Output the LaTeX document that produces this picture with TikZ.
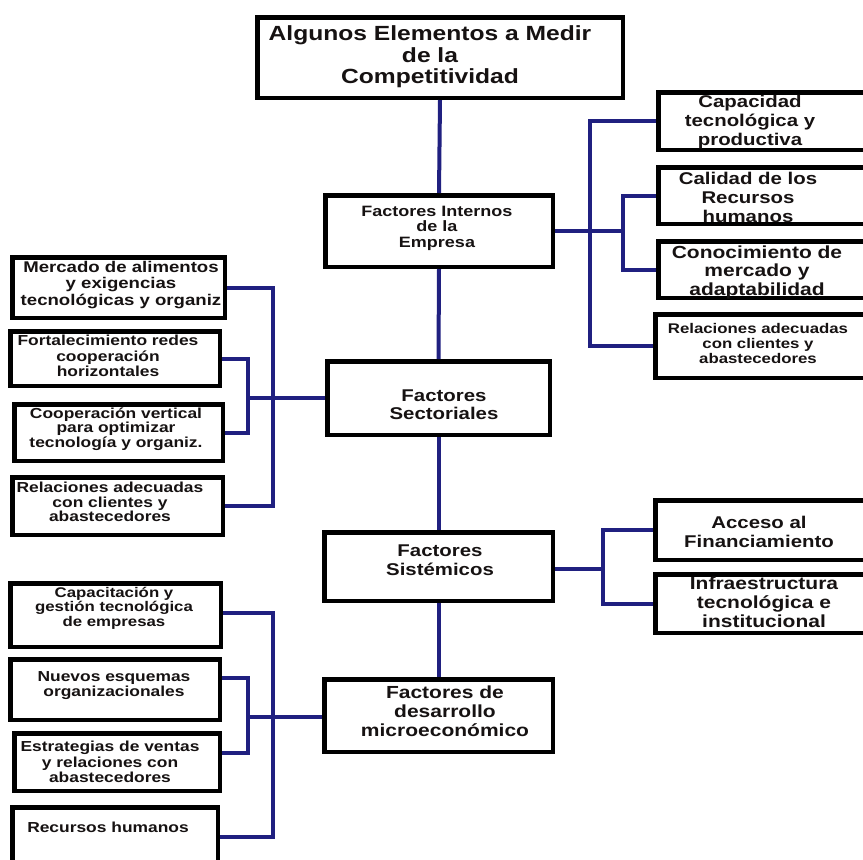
\documentclass[tikz,border=0pt]{standalone}
\usepackage{fontspec}
\newfontfamily\boxfont[FakeStretch=1.2]{Liberation Sans}
\definecolor{ink}{RGB}{22,18,18}
\definecolor{wire}{RGB}{32,32,128}
\newcommand\fs[2]{\boxfont\bfseries\fontsize{#1}{#2}\selectfont}
% rectangle from its outer corners (x1,y1)-(x2,y2), y growing downwards
\newcommand\mkbox[5]{%
  \node[frame, minimum width={(#4-#2-4.5)*1pt}, minimum height={(#5-#3-4.5)*1pt}]
    (#1) at ({(#2+#4)/2},{(#3+#5)/2}) {};}
\tikzset{
  frame/.style={draw=black, line width=4.5pt, fill=white, inner sep=0pt},
  txt/.style={align=center, inner sep=0pt, text=ink},
  conn/.style={draw=wire, line width=4pt, line join=miter}
}
\begin{document}
\begin{tikzpicture}[x=1pt, y=-1pt]
\useasboundingbox[fill=white] (0,0) rectangle (863,860);

% central column
\mkbox{title}{255}{15}{625}{100}
\mkbox{internos}{323}{193}{555}{269}
\mkbox{sectoriales}{325}{359}{552}{437}
\mkbox{sistemicos}{322}{530}{555}{603}
\mkbox{micro}{322}{677}{555}{754}

% right column, upper group
\mkbox{capacidad}{656}{90}{868}{152}
\mkbox{calidad}{656}{165}{868}{226}
\mkbox{conocimiento}{656}{239}{868}{300}
\mkbox{relder}{653}{312}{868}{380}

% right column, lower group
\mkbox{acceso}{653}{498}{868}{562}
\mkbox{infra}{653}{572}{868}{635}

% left column, upper group
\mkbox{mercado}{10}{255}{227}{320}
\mkbox{fortal}{8}{329}{222}{388}
\mkbox{coopv}{12}{402}{225}{463}
\mkbox{relizq}{10}{475}{225}{537}

% left column, lower group
\mkbox{capacit}{8}{581}{223}{649}
\mkbox{nuevos}{8}{657}{222}{722}
\mkbox{estrat}{12}{731}{222}{793}
\mkbox{recursos}{10}{805}{220}{869}

% bus positions
\coordinate (rbA) at (590,0);
\coordinate (rbB) at (623,0);
\coordinate (rbC) at (603,0);
\coordinate (lbA) at (273,0);
\coordinate (lbB) at (248,0);

% connectors
\draw[conn] (title.south) -- (internos.north);
\draw[conn] (internos.south) -- (sectoriales.north);
\draw[conn] (sectoriales.south) -- (sistemicos.north);
\draw[conn] (sistemicos.south) -- (micro.north);

\draw[conn] (internos.east) -- (internos.east -| rbB);
\draw[conn] (capacidad.west) -- (capacidad.west -| rbA) -- (relder.west -| rbA) -- (relder.west);
\draw[conn] (calidad.west) -- (calidad.west -| rbB) -- (conocimiento.west -| rbB) -- (conocimiento.west);

\draw[conn] ([yshift=-2pt]sistemicos.east) -- ([yshift=-2pt]sistemicos.east -| rbC);
\draw[conn] (acceso.west) -- (acceso.west -| rbC) -- (infra.west -| rbC) -- (infra.west);

\draw[conn] (sectoriales.west) -- (sectoriales.west -| lbB);
\draw[conn] (mercado.east) -- (mercado.east -| lbA) -- (relizq.east -| lbA) -- (relizq.east);
\draw[conn] (fortal.east) -- (fortal.east -| lbB) -- (coopv.east -| lbB) -- (coopv.east);

\draw[conn] ([yshift=-1.5pt]micro.west) -- ([yshift=-1.5pt]micro.west -| lbB);
\draw[conn] ([yshift=2pt]capacit.east) -- ([yshift=2pt]capacit.east -| lbA) -- (recursos.east -| lbA) -- (recursos.east);
\draw[conn] ([yshift=11.5pt]nuevos.east) -- ([yshift=11.5pt]nuevos.east -| lbB) -- ([yshift=9pt]estrat.east -| lbB) -- ([yshift=9pt]estrat.east);

% labels
\node[txt, font=\fs{20.5}{21.5}] (ttitle) at (430,57) {Algunos Elementos a Medir\\de la\\Competitividad};
\node[txt, font=\fs{15}{15.5}] (tinternos) at (437,228) {Factores Internos\\de la\\Empresa};
\node[txt, font=\fs{17}{18}] (tsectoriales) at (444,405) {Factores\\Sectoriales};
\node[txt, font=\fs{17}{19}] (tsistemicos) at (440,560) {Factores\\Sistémicos};
\node[txt, font=\fs{17.5}{19}] (tmicro) at (445,711) {Factores de\\desarrollo\\microeconómico};

\node[txt, font=\fs{17}{19}] (tcapacidad) at (750,122) {Capacidad\\tecnológica y\\productiva};
\node[txt, font=\fs{17}{19}] (tcalidad) at (748,197) {Calidad de los\\Recursos\\humanos};
\node[txt, font=\fs{17.5}{18.5}] (tconocimiento) at (757,272) {Conocimiento de\\mercado y\\adaptabilidad};
\node[txt, font=\fs{14}{15}] (trelder) at (758,343) {Relaciones adecuadas\\con clientes y\\abastecedores};
\node[txt, font=\fs{17}{18.5}] (tacceso) at (759,532) {Acceso al\\Financiamiento};
\node[txt, font=\fs{17.5}{19}] (tinfra) at (764,602) {Infraestructura\\tecnológica e\\institucional};

\node[txt, font=\fs{15.5}{16.5}] (tmercado) at (121,285) {Mercado de alimentos\\y exigencias\\tecnológicas y organiz};
\node[txt, font=\fs{14.5}{15.5}] (tfortal) at (108,356) {Fortalecimiento redes\\cooperación\\horizontales};
\node[txt, font=\fs{14.5}{14.5}] (tcoopv) at (116,429) {Cooperación vertical\\para optimizar\\tecnología y organiz.};
\node[txt, font=\fs{14.5}{14.5}] (trelizq) at (110,502) {Relaciones adecuadas\\con clientes y\\abastecedores};

\node[txt, font=\fs{14}{14.5}] (tcapacit) at (114,608) {Capacitación y\\gestión tecnológica\\de empresas};
\node[txt, font=\fs{14.5}{15}] (tnuevos) at (114,686) {Nuevos esquemas\\organizacionales};
\node[txt, font=\fs{14.5}{15.5}] (testrat) at (110,762) {Estrategias de ventas\\y relaciones con\\abastecedores};
\node[txt, font=\fs{14.5}{15}] (trecursos) at (108,827) {Recursos humanos};
\end{tikzpicture}
\end{document}
